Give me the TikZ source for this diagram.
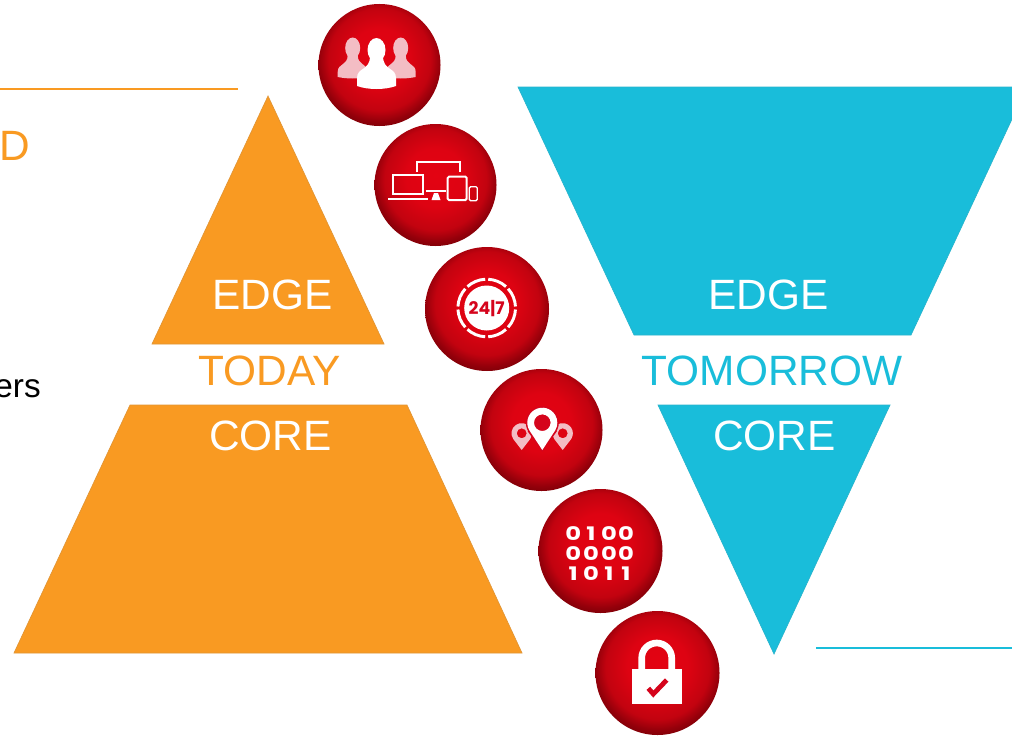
\documentclass[tikz,border=0pt]{standalone}
\usepackage{fontspec}
\usetikzlibrary{calc}
\setmainfont{Liberation Sans}
\newfontfamily\iconfont{Poppins}[UprightFont=* Bold]
\newcommand{\widedigit}[1]{\scalebox{1.3}[1]{#1}}
\definecolor{orangeA}{HTML}{F99A22}
\definecolor{cyanA}{HTML}{19BDDA}
\definecolor{redA}{HTML}{D5041C}
\definecolor{pinkA}{HTML}{F3BDC4}
\pgfdeclareradialshading{ball}{\pgfpoint{0bp}{4bp}}{
  rgb(0bp)=(0.89,0.01,0.07);
  rgb(12bp)=(0.87,0.01,0.07);
  rgb(21bp)=(0.76,0.01,0.06);
  rgb(25bp)=(0.58,0.0,0.04);
  rgb(29bp)=(0.44,0.0,0.02);
  rgb(50bp)=(0.44,0.0,0.02)}
\tikzset{
  x=0.75pt,y=-0.75pt,
  sphere/.style={circle,inner sep=0pt,minimum size=#1*0.75pt,shading=ball,draw=none},
  lbl/.style={inner sep=0pt,anchor=base,font=\fontsize{31.8pt}{34pt}\selectfont},
  whitelbl/.style={lbl,text=white},
  shapeO/.style={fill=orangeA,draw=orangeA!80!gray,line width=0.5pt},
  shapeC/.style={fill=cyanA,draw=cyanA!85!gray,line width=0.5pt},
  iconline/.style={draw=white,line width=1.5pt,fill=none},
  digit/.style={inner sep=0pt,text=white,font=\iconfont\fontsize{14pt}{14pt}\selectfont},
}
\begin{document}
\begin{tikzpicture}
\useasboundingbox (0,0) rectangle (1012,735);
\clip (0,0) rectangle (1012,735);
\fill[white] (0,0) rectangle (1012,735);
% rules and clipped texts
\coordinate (ruleOa) at (0,89); \coordinate (ruleOb) at (238,89);
\draw[orangeA,line width=1.2pt] (ruleOa) -- (ruleOb);
\coordinate (ruleCa) at (816,648); \coordinate (ruleCb) at (1012,648);
\draw[cyanA,line width=1.2pt] (ruleCa) -- (ruleCb);
\node[inner sep=0pt,anchor=base east,text=orangeA,font=\fontsize{31.8pt}{34pt}\selectfont] (dtext) at (30.5,160) {D};
\node[inner sep=0pt,anchor=base east,text=black,font=\fontsize{25pt}{28pt}\selectfont] (erstext) at (41,397) {ers};
% pyramids
\path[shapeO] (268,96) -- (384,344) -- (152,344) -- cycle;
\path[shapeO] (130,405) -- (407,405) -- (522,653) -- (14,653) -- cycle;
\path[shapeC] (518,87) -- (1027,87) -- (911,335) -- (634,335) -- cycle;
\path[shapeC] (658,405) -- (890,405) -- (774,654) -- cycle;
% labels
\node[whitelbl] (edgeL) at (272.5,309) {EDGE};
\node[lbl,text=orangeA] (today) at (269.5,385) {TODAY};
\node[whitelbl] (coreL) at (270.5,450) {CORE};
\node[whitelbl] (edgeR) at (768.5,309) {EDGE};
\node[lbl,text=cyanA] (tomorrow) at (772,385) {TOMORROW};
\node[whitelbl] (coreR) at (774.5,450) {CORE};
% spheres
\node[sphere=122] (s1) at (379.5,65) {};
\node[sphere=122] (s2) at (435.5,185) {};
\node[sphere=124] (s3) at (487,309) {};
\node[sphere=122] (s4) at (541.5,430) {};
\node[sphere=124] (s5) at (600.5,551) {};
\node[sphere=124] (s6) at (657.5,673) {};
% icon 1: people
\foreach \cx in {352.7,400.7}{
  \fill[pinkA] (\cx,48) ellipse [x radius=7.5,y radius=10.5];
  \fill[pinkA] (\cx-15,77) -- (\cx-15,72) .. controls (\cx-15,63) and (\cx-5,66) .. (\cx-5,55)
     -- (\cx+5,55) .. controls (\cx+5,66) and (\cx+15,63) .. (\cx+15,72) -- (\cx+15,77)
     .. controls (\cx+5,79) and (\cx-5,79) .. (\cx-15,77) -- cycle;
}
\fill[white] (376.5,50) ellipse [x radius=9,y radius=12];
\fill[white] (357,86) -- (357,78) .. controls (357,67) and (370,71) .. (370,56)
   -- (383,56) .. controls (383,71) and (396,67) .. (396,78) -- (396,86)
   .. controls (385,90) and (368,90) .. (357,86) -- cycle;
% icon 2: devices
\draw[iconline] (393.3,175) rectangle (422.7,194.3);
\draw[white,line width=1.8pt] (388,199) -- (427.7,199);
\draw[iconline] (416.7,172) -- (416.7,162) -- (460,162) -- (460,172);
\draw[white,line width=1.8pt] (425.7,190.7) -- (445.7,190.7);
\fill[white] (434,193) -- (438,193) -- (440.5,200) -- (431.5,200) -- cycle;
\draw[iconline,rounded corners=1pt] (447.7,176.7) rectangle (466.7,200);
\draw[draw=white,line width=1pt,rounded corners=1pt] (469.3,186.7) rectangle (477.3,200.7);
% icon 3: 24/7
\foreach \a in {0,45,...,315}{
  \draw[white,line width=2.2pt] ($(486.7,308)+(\a+3:28.8)$) arc [start angle=\a+3,end angle=\a+42,radius=28.8];
}
\fill[white] (486.7,308) circle (22.5);
\node[inner sep=0pt,text=redA,font=\iconfont\fontsize{13pt}{13pt}\selectfont] (clock) at (486.7,308.5) {24|7};
% icon 4: pins
\foreach \cx in {521.7,562.7}{
  \fill[pinkA,even odd rule] (\cx,450) -- (\cx-8.36,439.15) arc [start angle=145,end angle=395,radius=10.2] -- cycle
     (\cx,433.3) circle (5);
}
\fill[redA] (542.3,422.7) circle (16.5);
\fill[redA] (542.3,452) -- (527.5,431) -- (557,431) -- cycle;
\fill[white,even odd rule] (542.3,450) -- (529.3,430.2) arc [start angle=150,end angle=390,radius=15] -- cycle
     (542.3,422.7) circle (8.3);
% icon 5: digits
\foreach \row/\yy/\da/\db/\dc/\dd in {a/533.3/0/1/0/0,b/553.3/0/0/0/0,c/573.3/1/0/1/1}{
  \node[digit] (d\row1) at (573.3,\yy) {\widedigit{\da}};
  \node[digit] (d\row2) at (591,\yy) {\widedigit{\db}};
  \node[digit] (d\row3) at (609,\yy) {\widedigit{\dc}};
  \node[digit] (d\row4) at (626,\yy) {\widedigit{\dd}};
}
% icon 6: lock
\draw[white,line width=5pt] (641.7,669) -- (641.7,658) arc [start angle=180,end angle=360,radius=15] -- (671.7,669);
\fill[white] (631.7,669) rectangle (681.7,704.3);
\draw[redA,line width=3.6pt] (648.3,688.3) -- (653.3,694) -- (666.7,680);
\end{tikzpicture}
\end{document}
